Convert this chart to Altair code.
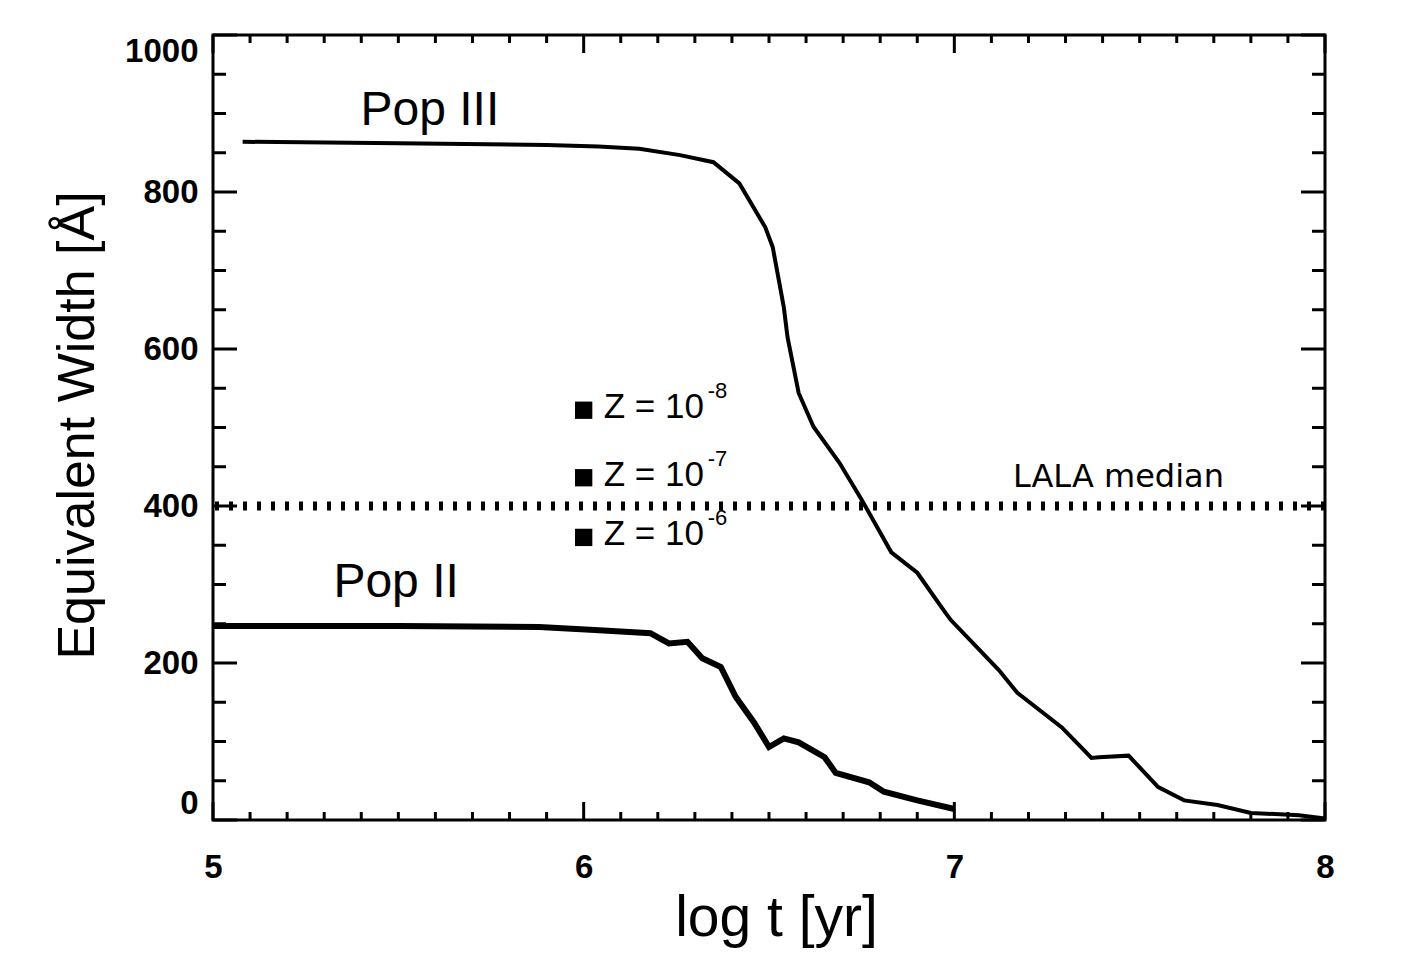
import altair as alt
import pandas as pd

# ---- data ----
pop3_logt = [5.08, 5.5, 5.9, 6.04, 6.15, 6.26, 6.35, 6.42, 6.49, 6.51, 6.54, 6.55,
             6.58, 6.62, 6.69, 6.75, 6.83, 6.90, 6.97, 6.99, 7.12, 7.17, 7.29, 7.37,
             7.39, 7.47, 7.55, 7.62, 7.71, 7.80, 7.93, 8.0]
pop3_ew = [864, 862, 860, 858, 855, 847, 838, 811, 755, 730, 653, 615,
           544, 501, 455, 408, 341, 315, 268, 255, 191, 162, 118, 79,
           80, 82, 42, 25, 19, 9, 6, 2]

pop2_logt = [5.0, 5.5, 5.88, 6.03, 6.18, 6.23, 6.28, 6.32, 6.37, 6.41, 6.46, 6.50,
             6.54, 6.58, 6.65, 6.68, 6.77, 6.81, 6.90, 7.0]
pop2_ew = [247, 247, 246, 242, 238, 225, 227, 206, 195, 157, 124, 93,
           104, 99, 80, 60, 48, 36, 25, 14]

z_logt = [6.0, 6.0, 6.0]
z_ew = [522, 436, 360]
z_base = ["Z = 10", "Z = 10", "Z = 10"]
z_exp = ["-8", "-7", "-6"]

lala_ew = [400]
lala_text = ["LALA median"]
lala_text_logt = [7.158]
lala_text_ew = [424]

pop_labels = ["Pop III", "Pop II"]
pop_label_logt = [5.585, 5.494]
pop_label_ew = [885, 284]

x_major = [5, 6, 7, 8]
x_minor = [round(5 + i / 10, 1) for i in range(1, 30) if i % 10 != 0]
y_major = [0, 200, 400, 600, 800, 1000]
y_minor = [v for v in range(50, 1000, 50) if v % 200 != 0]

W, H = 1112, 785
FONT = "Liberation Sans"

xs = alt.Scale(domain=[5, 8], nice=False, zero=False)
ys = alt.Scale(domain=[0, 1000], nice=False)

df3 = pd.DataFrame({"logt": pop3_logt, "ew": pop3_ew})
df2 = pd.DataFrame({"logt": pop2_logt, "ew": pop2_ew})
dfz = pd.DataFrame({"logt": z_logt, "ew": z_ew, "base": z_base, "exp": z_exp})
dfpop = pd.DataFrame({"logt": pop_label_logt, "ew": pop_label_ew, "label": pop_labels})
dflala = pd.DataFrame({"logt": lala_text_logt, "ew": lala_text_ew, "label": lala_text})
dflala_line = pd.DataFrame({"ew": lala_ew})

xaxis = alt.Axis(values=x_major, format="d", domain=False, ticks=False, grid=False,
                 labelFont=FONT, labelFontSize=33, labelFontWeight="bold",
                 labelColor="black", labelPadding=31, labelFlush=False,
                 title="log t [yr]", titleFont=FONT, titleFontSize=57, titleFontWeight="normal",
                 titleColor="black", titleX=563, titleY=115, titleAlign="center",
                 titleBaseline="alphabetic")
yaxis = alt.Axis(values=y_major, format="d", domain=False, ticks=False, grid=False,
                 labelFont=FONT, labelFontSize=33, labelFontWeight="bold",
                 labelColor="black", labelPadding=15, labelFlush=True,
                 title="Equivalent Width [Å]", titleFont=FONT, titleFontSize=52,
                 titleFontWeight="normal", titleColor="black", titleAngle=270,
                 titleX=-120, titleY=390, titleAlign="center", titleBaseline="alphabetic")


def X(field):
    return alt.X(field, scale=xs, axis=xaxis)


def Y(field):
    return alt.Y(field, scale=ys, axis=yaxis)


pop3_line = alt.Chart(df3).mark_line(color="black", strokeWidth=4).encode(
    x=X("logt:Q"), y=Y("ew:Q"))
pop2_line = alt.Chart(df2).mark_line(color="black", strokeWidth=6).encode(
    x=X("logt:Q"), y=Y("ew:Q"))
lala_line = alt.Chart(dflala_line).mark_rule(color="black", strokeWidth=9,
                                             strokeDash=[4, 10]).encode(y=Y("ew:Q"))
squares = alt.Chart(dfz).mark_point(shape="square", filled=True, color="black",
                                    size=300, opacity=1).encode(x=X("logt:Q"), y=Y("ew:Q"))
z_text = alt.Chart(dfz).mark_text(font=FONT, fontSize=35, color="black", align="left",
                                  baseline="middle", dx=20, dy=-3).encode(
    x=X("logt:Q"), y=Y("ew:Q"), text="base:N")
z_exp_text = alt.Chart(dfz).mark_text(font=FONT, fontSize=22, color="black", align="left",
                                      baseline="middle", dx=124, dy=-19).encode(
    x=X("logt:Q"), y=Y("ew:Q"), text="exp:N")
pop_text = alt.Chart(dfpop).mark_text(font=FONT, fontSize=48, color="black", align="center",
                                      baseline="alphabetic").encode(
    x=X("logt:Q"), y=Y("ew:Q"), text="label:N")
lala_label = alt.Chart(dflala).mark_text(font="DejaVu Sans", fontSize=32, color="black",
                                         align="left", baseline="alphabetic").encode(
    x=X("logt:Q"), y=Y("ew:Q"), text="label:N")


# inward ticks on all four sides
def xticks(vals, length):
    d = pd.DataFrame({"logt": vals})
    bottom = alt.Chart(d).mark_rule(color="black", strokeWidth=3).encode(
        x=X("logt:Q"), y=alt.value(H), y2=alt.value(H - length))
    top = alt.Chart(d).mark_rule(color="black", strokeWidth=3).encode(
        x=X("logt:Q"), y=alt.value(0), y2=alt.value(length))
    return [bottom, top]


def yticks(vals, length):
    d = pd.DataFrame({"ew": vals})
    left = alt.Chart(d).mark_rule(color="black", strokeWidth=3).encode(
        y=Y("ew:Q"), x=alt.value(0), x2=alt.value(length))
    right = alt.Chart(d).mark_rule(color="black", strokeWidth=3).encode(
        y=Y("ew:Q"), x=alt.value(W), x2=alt.value(W - length))
    return [left, right]


ticks = xticks(x_major, 18) + xticks(x_minor, 8) + yticks(y_major, 24) + yticks(y_minor, 13)

chart = alt.layer(
    pop3_line, pop2_line, lala_line, squares, z_text, z_exp_text, pop_text, lala_label,
    *ticks
).properties(
    width=W, height=H,
    padding={"left": 213, "top": 35, "right": 88, "bottom": 155},
    autosize=alt.AutoSizeParams(type="none"),
    background="white",
).configure_view(stroke="black", strokeWidth=3)

chart.save("out.html", embed_options={"renderer": "svg", "actions": False})
